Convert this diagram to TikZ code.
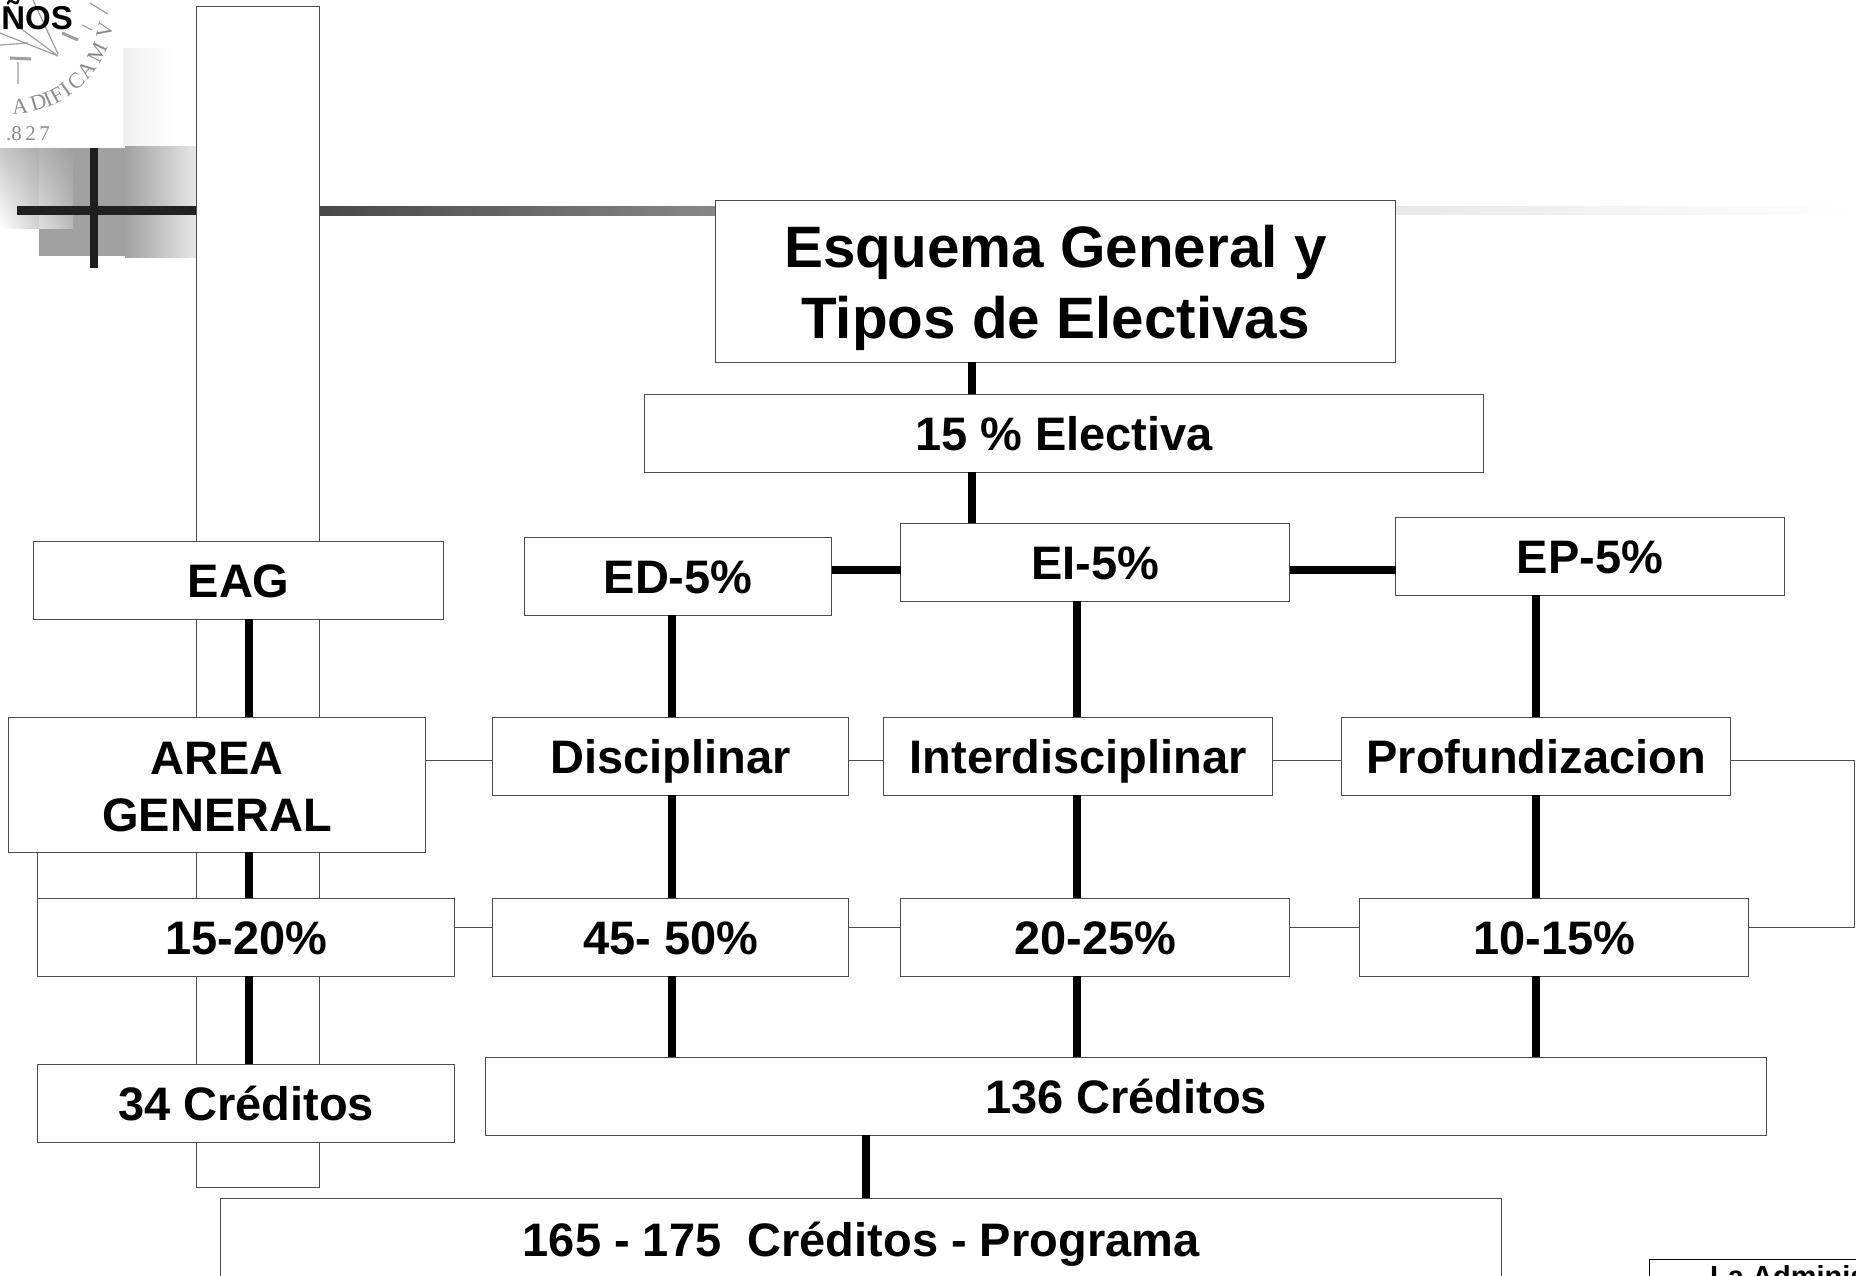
\documentclass[tikz,border=0pt]{standalone}
\usepackage{fontspec}
\usetikzlibrary{shadings}
\setmainfont{Liberation Sans}
\newfontfamily\sealfont{Liberation Serif}
\tikzset{
  box/.style={draw=black!70,line width=1pt,fill=white,anchor=north west,inner sep=0pt,outer sep=0pt,align=center,
    xshift=0.6pt,yshift=-0.4pt,font=\bfseries\fontsize{47}{57}\selectfont},
  onebox/.style={box,text height=34.5pt,text depth=0pt},
  bigbox/.style={box,font=\bfseries\fontsize{58.4}{71}\selectfont},
  thickline/.style={line width=7.5pt,black},
  thinline/.style={line width=1pt,black!70},
  seal/.style={line width=1.2pt,black!38},
  sealletter/.style={inner sep=0pt,text=black!45,font=\sealfont\fontsize{22}{22}\selectfont},
}
\begin{document}
\begin{tikzpicture}[x=1pt,y=-1pt]
\useasboundingbox (0,0) rectangle (1856,1275);
\clip (0,0) rectangle (1856,1275);
% decorative background
\fill[white] (0,0) rectangle (1856,1275);
\fill[left color=black!6,right color=white] (123,48) rectangle (175,146);
\fill[black!37] (39,148) rectangle (125,256);
\fill[left color=black!37,right color=black!9] (125,146) rectangle (197,257);
\shade[lower left=white,upper right=black!32,lower right=black!18,upper left=black!22] (0,148) rectangle (39,228);
\shade[lower left=black!12,upper right=black!37,lower right=black!28,upper left=black!30] (39,148) rectangle (73,228);
\fill[black!87] (17,206) rectangle (197,215);
\fill[black!88] (90,148) rectangle (98,268);
\fill[left color=black!72,right color=black!47] (319,206) rectangle (716,215);
\fill[left color=black!9,right color=white] (1395,206) rectangle (1856,214);
% seal
\draw[seal] (0,33) -- (58,56) (33,0) -- (58,54) (20,28) -- (58,56);
\draw[seal,line width=3pt] (10,58) -- (31,59) (62,33) -- (78,40);
\draw[seal] (18,62) -- (18,84) (0,45) -- (28,43) (90,3) -- (108,14) (82,25) -- (92,30);
\foreach \l/\a in {A/84,D/73,I/67,F/61,I/55,C/47,A/38,M/26,V/12}{
  \node[sealletter,rotate=90-\a] at ({10+97*cos(\a)},{10+97*sin(\a)}) {\l};
}
\node[sealletter,anchor=base west,font=\sealfont\fontsize{21}{21}\selectfont] (year) at (6,140) {.8\,2\,7};
% top-left and bottom-right cut-off texts
\node[anchor=base east,inner sep=0pt,font=\bfseries\fontsize{33}{33}\selectfont] (nos) at (73,29) {ÑOS};
% tall empty box
\node[box,minimum width=123pt,minimum height=1181pt] (tall) at (196,6) {};
% coordinates giving connector columns and rows
\coordinate (cTop) at (972,0);
\coordinate (cEd) at (672,0);
\coordinate (cEi) at (1077,0);
\coordinate (cEp) at (1536,0);
\coordinate (cGen) at (249,0);
\coordinate (cAll) at (866,0);
\coordinate (rowA) at (0,570);
\coordinate (rowB) at (0,760);
\coordinate (rowC) at (0,927);
\coordinate (rightA) at (1854,760);
\coordinate (rightB) at (1854,927);
\node[bigbox,minimum width=680pt,minimum height=162pt] (title) at (715,200) {\rule{0pt}{56pt}Esquema General y\\Tipos de Electivas};
\node[onebox,minimum width=839pt,minimum height=78pt] (elec) at (644,394) {15 \% Electiva};
\node[onebox,minimum width=307pt,minimum height=78pt] (ed) at (524,537) {ED-5\%};
\node[onebox,minimum width=389pt,minimum height=78pt] (ei) at (900,523) {EI-5\%};
\node[onebox,minimum width=389pt,minimum height=78pt] (ep) at (1395,517) {EP-5\%};
\node[onebox,minimum width=410pt,minimum height=78pt] (eag) at (33,541) {EAG};
\node[box,minimum width=417pt,minimum height=135pt] (area) at (8,717) {\rule{0pt}{36pt}AREA\\GENERAL};
\node[onebox,minimum width=356pt,minimum height=78pt] (dis) at (492,717) {Disciplinar};
\node[onebox,minimum width=389pt,minimum height=78pt] (int) at (883,717) {Interdisciplinar};
\node[onebox,minimum width=389pt,minimum height=78pt] (pro) at (1341,717) {Profundizacion};
\node[onebox,minimum width=417pt,minimum height=78pt] (pa) at (37,898) {15-20\%};
\node[onebox,minimum width=356pt,minimum height=78pt] (pb) at (492,898) {45- 50\%};
\node[onebox,minimum width=389pt,minimum height=78pt] (pc) at (900,898) {20-25\%};
\node[onebox,minimum width=389pt,minimum height=78pt] (pd) at (1359,898) {10-15\%};
\node[onebox,minimum width=417pt,minimum height=78pt] (cra) at (37,1064) {34 Créditos};
\node[onebox,minimum width=1281pt,minimum height=78pt] (crb) at (485,1057) {136 Créditos};
\node[onebox,text height=33.6pt,minimum width=1281pt,minimum height=82pt] (prog) at (220,1198) {165 - 175\hspace{0.28em} Créditos - Programa};
\node[box,minimum width=300pt,minimum height=70pt,draw=black] (adm) at (1649,1259) {};
\node[anchor=base west,inner sep=0pt,font=\bfseries\fontsize{29}{29}\selectfont] (admt) at (1710,1286) {La Adminis};
% thick connectors
\draw[thickline] (cTop |- title.south) -- (cTop |- elec.north);
\draw[thickline] (cTop |- elec.south) -- (cTop |- ei.north);
\draw[thickline] (ed.east |- rowA) -- (ei.west |- rowA);
\draw[thickline] (ei.east |- rowA) -- (ep.west |- rowA);
\draw[thickline] (cEd |- ed.south) -- (cEd |- dis.north);
\draw[thickline] (cEi |- ei.south) -- (cEi |- int.north);
\draw[thickline] (cEp |- ep.south) -- (cEp |- pro.north);
\draw[thickline] (cEd |- dis.south) -- (cEd |- pb.north);
\draw[thickline] (cEi |- int.south) -- (cEi |- pc.north);
\draw[thickline] (cEp |- pro.south) -- (cEp |- pd.north);
\draw[thickline] (cEd |- pb.south) -- (cEd |- crb.north);
\draw[thickline] (cEi |- pc.south) -- (cEi |- crb.north);
\draw[thickline] (cEp |- pd.south) -- (cEp |- crb.north);
\draw[thickline] (cGen |- eag.south) -- (cGen |- area.north);
\draw[thickline] (cGen |- area.south) -- (cGen |- pa.north);
\draw[thickline] (cGen |- pa.south) -- (cGen |- cra.north);
\draw[thickline] (cAll |- crb.south) -- (cAll |- prog.north);
% thin connectors
\draw[thinline] (area.east |- rowB) -- (dis.west |- rowB);
\draw[thinline] (dis.east |- rowB) -- (int.west |- rowB);
\draw[thinline] (int.east |- rowB) -- (pro.west |- rowB);
\draw[thinline] (pa.east |- rowC) -- (pb.west |- rowC);
\draw[thinline] (pb.east |- rowC) -- (pc.west |- rowC);
\draw[thinline] (pc.east |- rowC) -- (pd.west |- rowC);
\draw[thinline] (pro.east |- rightA) -- (rightA) -- (rightB) -- (pd.east |- rightB);
\draw[thinline] (pa.north west) -- (pa.north west |- area.south);
\end{tikzpicture}
\end{document}
